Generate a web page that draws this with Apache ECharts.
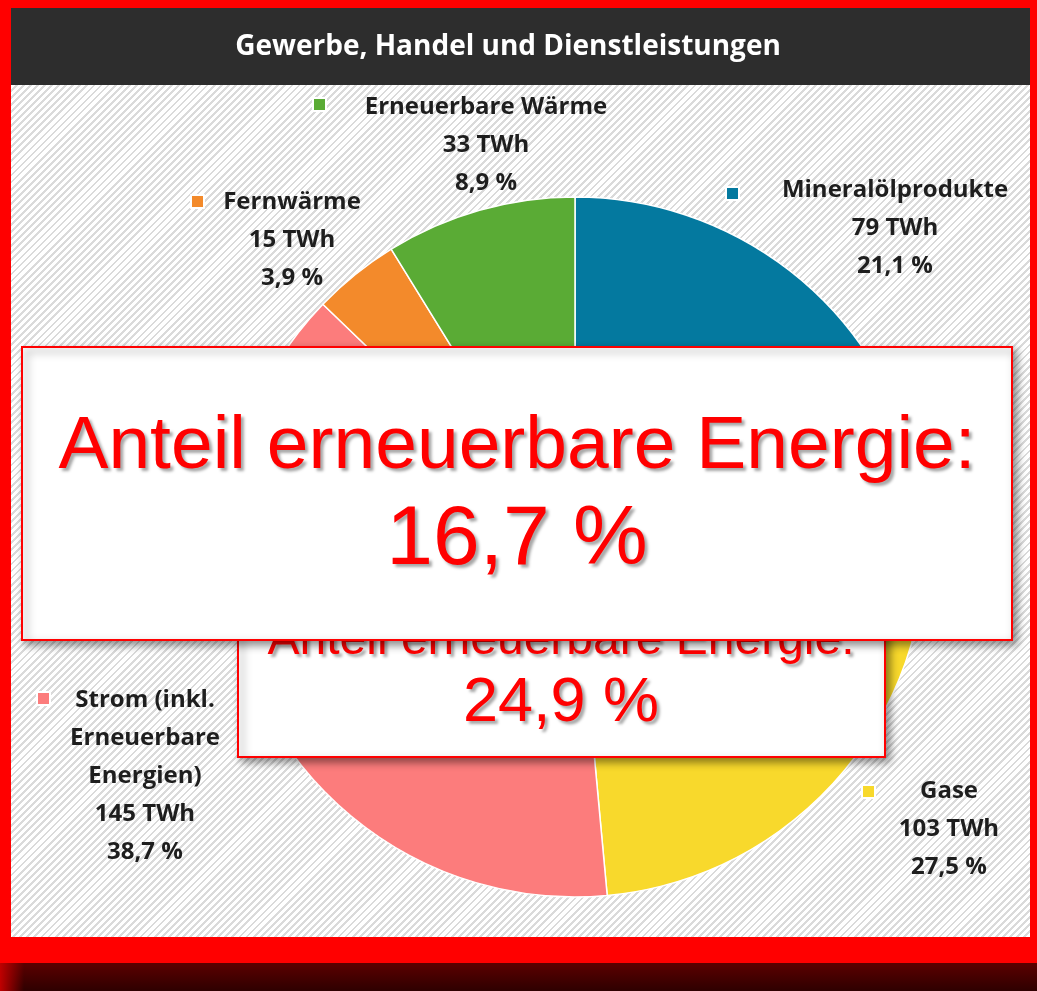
<!DOCTYPE html>
<html>
<head>
<meta charset="utf-8">
<script src="https://cdn.jsdelivr.net/npm/echarts@6/dist/echarts.min.js"></script>
<style>
  html, body { margin: 0; padding: 0; width: 1037px; height: 991px; overflow: hidden; background: #ff0000; }
  .hatch {
    position: absolute; left: 11px; top: 85px; width: 1019px; height: 852px;
    background-color: #ffffff;
    background-image: repeating-linear-gradient(135deg, #ffffff 0px, #ffffff 3px, #dadada 3px, #dadada 5px);
  }
  .bottom {
    position: absolute; left: 0; top: 963px; width: 1037px; height: 28px;
    background: linear-gradient(to bottom, #5c0000, #2e0000);
  }
  .bottom:before {
    content: ''; position: absolute; left: 0; top: 0; width: 24px; height: 28px;
    background: linear-gradient(to right, #c00000, rgba(90, 0, 0, 0));
  }
  #chart { position: absolute; left: 0; top: 0; width: 1037px; height: 991px; }
</style>
</head>
<body>
<div class="hatch"></div>
<div class="bottom"></div>
<div id="chart"></div>
<script>
// Daten: Endenergieverbrauch GHD
const names = ['Mineralölprodukte', 'Gase', 'Strom (inkl.\nErneuerbare\nEnergien)', 'Fernwärme', 'Erneuerbare Wärme'];
const twh = [79, 103, 145, 15, 33];
const shares = ['21,1 %', '27,5 %', '38,7 %', '3,9 %', '8,9 %'];
const colors = ['#04799f', '#f8d92c', '#fc7c7c', '#f38a2b', '#5aab35'];
const boxTitle = 'Anteil erneuerbare Energie:';
const boxValues = ['16,7 %', '24,9 %'];

// Lage der Beschriftungen (Mitte oben) und der Farbquadrate
const labelPos = [[895, 171], [949, 772], [145, 681], [292, 183], [486, 88]];
const markerPos = [[725, 186], [861, 784], [36, 691], [190, 194], [312, 97]];

const chart = echarts.init(document.getElementById('chart'));

const legends = names.map((n, i) => ({
  data: [n],
  left: markerPos[i][0],
  top: markerPos[i][1],
  padding: 0,
  icon: 'rect',
  itemWidth: 13,
  itemHeight: 13,
  selectedMode: false,
  formatter: () => ''
}));

const redText = {
  fill: '#ff0000',
  textAlign: 'center',
  textVerticalAlign: 'middle',
  textShadowColor: 'rgba(0,0,0,0.35)',
  textShadowBlur: 3,
  textShadowOffsetX: 3,
  textShadowOffsetY: 3
};

const boxStyle = {
  fill: '#ffffff',
  stroke: '#ff0000',
  lineWidth: 2,
  shadowColor: 'rgba(0,0,0,0.45)',
  shadowBlur: 8,
  shadowOffsetX: 4,
  shadowOffsetY: 4
};

const option = {
  backgroundColor: 'transparent',
  animation: false,
  color: colors,
  legend: legends,
  graphic: [
    {
      type: 'rect', z: 1,
      shape: { x: 11, y: 8, width: 1019, height: 77 },
      style: { fill: '#2d2d2d' }
    },
    {
      type: 'text', z: 2,
      style: {
        text: 'Gewerbe, Handel und Dienstleistungen',
        x: 508, y: 47,
        fill: '#ffffff',
        font: 'bold 28px "Open Sans", sans-serif',
        textAlign: 'center', textVerticalAlign: 'middle'
      }
    },
    // hinterer Kasten
    {
      type: 'rect', z: 100,
      shape: { x: 238, y: 560, width: 647, height: 197 },
      style: boxStyle
    },
    {
      type: 'text', z: 101,
      style: Object.assign({ text: boxTitle, x: 561, y: 641, font: '48px "Liberation Sans", Arial, sans-serif' }, redText)
    },
    {
      type: 'text', z: 101,
      style: Object.assign({ text: boxValues[1], x: 561, y: 704, font: '63px "Liberation Sans", Arial, sans-serif' }, redText)
    },
    // vorderer Kasten
    {
      type: 'rect', z: 110,
      shape: { x: 22, y: 347, width: 990, height: 293 },
      style: boxStyle
    },
    {
      type: 'text', z: 111,
      style: Object.assign({ text: boxTitle, x: 517, y: 447, font: '75px "Liberation Sans", Arial, sans-serif' }, redText)
    },
    {
      type: 'text', z: 111,
      style: Object.assign({ text: boxValues[0], x: 517, y: 541, font: '84px "Liberation Sans", Arial, sans-serif' }, redText)
    }
  ],
  series: [
    {
      type: 'pie',
      center: [575, 547],
      radius: 350,
      startAngle: 90,
      clockwise: true,
      itemStyle: { borderColor: '#ffffff', borderWidth: 1.5 },
      emphasis: { disabled: true },
      label: {
        show: true,
        position: 'outside',
        align: 'center',
        overflow: 'none',
        color: '#1e1e1e',
        fontFamily: '"Open Sans", sans-serif',
        fontWeight: 'bold',
        fontSize: 24,
        lineHeight: 38,
        formatter: p => p.name + '\n' + twh[p.dataIndex] + ' TWh\n' + shares[p.dataIndex]
      },
      labelLine: { show: false },
      labelLayout: p => ({
        x: labelPos[p.dataIndex][0],
        y: labelPos[p.dataIndex][1],
        align: 'center',
        verticalAlign: 'top'
      }),
      data: names.map((n, i) => ({ name: n, value: twh[i] }))
    }
  ]
};

chart.setOption(option);
</script>
</body>
</html>
